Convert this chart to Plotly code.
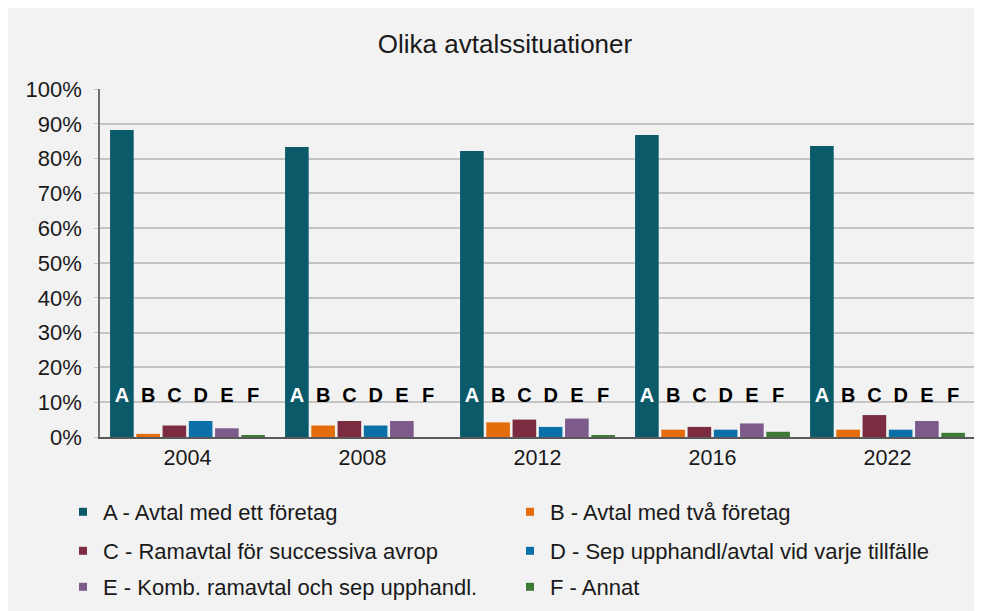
import plotly.graph_objects as go

years = ["2004", "2008", "2012", "2016", "2022"]
letters = ["A", "B", "C", "D", "E", "F"]
names = [
    "A - Avtal med ett företag",
    "B - Avtal med två företag",
    "C - Ramavtal för successiva avrop",
    "D - Sep upphandl/avtal vid varje tillfälle",
    "E - Komb. ramavtal och sep upphandl.",
    "F - Annat",
]
A_vals = [88.2, 83.3, 82.2, 86.8, 83.6]
B_vals = [0.9, 3.3, 4.2, 2.1, 2.1]
C_vals = [3.3, 4.6, 5.0, 2.9, 6.3]
D_vals = [4.6, 3.3, 2.9, 2.1, 2.1]
E_vals = [2.5, 4.6, 5.3, 3.9, 4.6]
F_vals = [0.5, 0.0, 0.5, 1.5, 1.2]
series = [A_vals, B_vals, C_vals, D_vals, E_vals, F_vals]
colors = ["#0b5a6a", "#e46c0a", "#7b2c41", "#0b70a8", "#7d5a8c", "#3d7a36"]
letter_colors = ["white", "black", "black", "black", "black", "black"]
label_y = 11.4
y_ticks = list(range(0, 101, 10))
y_ticklabels = [f"{v}%" for v in y_ticks]

FONT = "Liberation Sans, Arial, sans-serif"
legend_ids = ["legend", "legend", "legend2", "legend2", "legend3", "legend3"]

fig = go.Figure()
for i, (vals, name, col) in enumerate(zip(series, names, colors)):
    fig.add_trace(go.Bar(
        x=years, y=vals, name=name, marker=dict(color=col, line=dict(width=0)),
        offsetgroup=str(i), showlegend=False, hoverinfo="skip",
    ))
for i, (let, lc) in enumerate(zip(letters, letter_colors)):
    fig.add_trace(go.Scatter(
        x=years, y=[label_y] * len(years), mode="text", text=[let] * len(years),
        textposition="middle center", offsetgroup=str(i), showlegend=False,
        textfont=dict(family=FONT, size=20, color=lc, weight="bold"),
        cliponaxis=False, hoverinfo="skip",
    ))
# legend entries (small square swatches)
for i, (name, col) in enumerate(zip(names, colors)):
    fig.add_trace(go.Scatter(
        x=[None], y=[None], mode="markers", name=name, offsetgroup=str(i),
        marker=dict(symbol="square", size=8, color=col),
        legend=legend_ids[i], showlegend=True, hoverinfo="skip",
    ))

W, H = 982, 611
L, R, T, B = 92, 15, 81, 182
plotW, plotH = W - L - R, H - T - B

def leg(ypx):
    return dict(
        orientation="h", x=(55 - L) / plotW, xanchor="left",
        y=-(ypx - (H - B)) / plotH, yanchor="middle",
        entrywidth=402, entrywidthmode="pixels", itemwidth=30,
        font=dict(family=FONT, size=22, color="#1a1a1a"),
        bgcolor="rgba(0,0,0,0)", traceorder="normal",
    )

fig.update_layout(
    width=W, height=H,
    margin=dict(l=L, r=R, t=T, b=B, autoexpand=False),
    paper_bgcolor="#f2f2f2", plot_bgcolor="#f2f2f2",
    barmode="group", bargap=0.1, bargroupgap=0.1, scattermode="group",
    title=dict(text="Olika avtalssituationer", x=497 / W, xanchor="center",
               y=1 - 36 / H, yanchor="middle", yref="container",
               font=dict(family=FONT, size=26, color="#1a1a1a")),
    font=dict(family=FONT, size=21, color="#1a1a1a"),
    legend=leg(504), legend2=leg(543), legend3=leg(579),
    xaxis=dict(showgrid=False, showline=True, linecolor="#595959", linewidth=2,
               ticks="", tickfont=dict(size=21.5, color="#1a1a1a")),
    yaxis=dict(range=[0, 100], tickvals=y_ticks, ticktext=y_ticklabels,
               showgrid=True, gridcolor="#c4c4c4", gridwidth=1.5,
               showline=True, linecolor="#6f6f6f", linewidth=1.5,
               ticks="outside", ticklen=4, tickcolor="#c4c4c4",
               ticklabelstandoff=8,
               zeroline=False, tickfont=dict(size=22, color="#1a1a1a")),
    showlegend=True,
)
fig.write_html("out.html")
